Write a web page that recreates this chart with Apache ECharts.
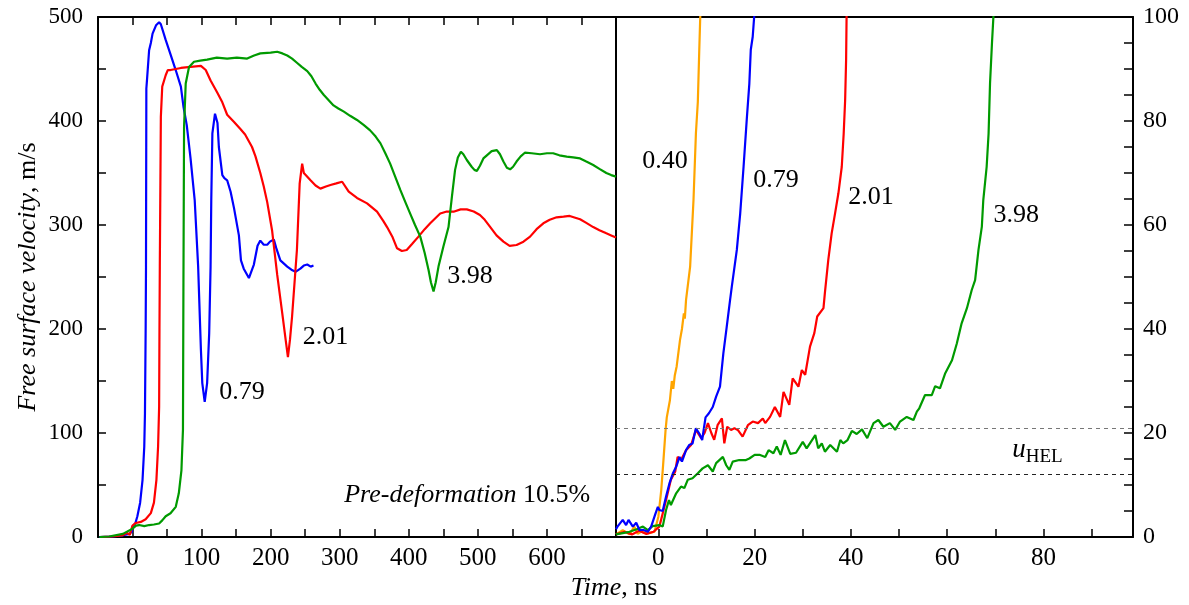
<!DOCTYPE html>
<html>
<head>
<meta charset="utf-8">
<script src="https://cdn.jsdelivr.net/npm/echarts@6/dist/echarts.min.js"></script>
<style>
  html, body { margin: 0; padding: 0; background: #fff; }
  #chart { width: 1189px; height: 605px; }
</style>
</head>
<body>
<div id="chart"></div>
<script>
/* Left panel: full records, time in ns, velocity in m/s. */
let blueLeft = [[-48,0],[-29,0.5],[-15,1.5],[-5,3],[-1,5],[0,10],[4,13],[7,20],[11,33],[14.5,55],[17,87],[18,119],[19,200],[19.5,260],[20,431],[21,440],[24,468],[26.5,475],[29,484],[34,492],[38.5,495],[41,493],[48,478],[55,464],[62.5,449],[70,433],[73.7,414],[78.5,396],[84,364],[90,324],[95,260],[99,180],[101,148],[104.5,130],[108,148],[111,196],[113,260],[114,324],[115.6,388],[119.4,407],[123,398],[125,375],[130,348],[133,345],[137,343],[142,332],[147,316],[154,290],[157,266],[161,258],[168.5,249],[175.7,262],[181,280],[185,285],[190,281],[195,281],[199,284],[204.6,286],[208,278],[214,266],[224,260],[230,257],[236,255],[243,258],[248,261],[253,262],[258,260],[262,261]];
let redLeft = [[-47,0],[-30,0.5],[-15,1.5],[-8,4],[-4,2],[0,11],[4.8,13.5],[12,14.5],[19,17],[26.5,23],[31,33],[34.6,55],[37,87],[38.5,125],[39,200],[39.5,260],[41,404],[43,433],[48,444],[51,449],[55,449],[70,451],[84,452],[99,453],[106,449],[113,439],[123,427],[130,418],[137,406],[147,399],[156.5,392],[163,387],[173,375],[178,366],[185,350],[190,337],[195,322],[202,295],[209.5,252],[216.8,215],[222,188],[225,173],[228,190],[231,212],[238,276],[242,340],[245.6,359],[248,350],[257.7,343],[265,338],[272,335],[280,337],[286.6,338.5],[295,340],[303.5,341.6],[313,332],[325,326],[339.6,320.8],[354,312.8],[363,304],[368.5,298],[376,289],[383,277.6],[390,275],[397,276],[405,282],[414,288.8],[423,296],[431,301.6],[445.5,311],[455,313],[464.8,312.8],[475,315],[484,315],[494,313],[503,309.6],[510,305],[518,298],[527,290],[537,284],[546,280],[556,280.8],[566,284],[575.6,288.8],[585,296],[594.8,301.6],[604,305],[614,307.4],[624,308],[633,308.7],[641,307],[648,305.5],[657,302],[667,298],[676,295],[686,292],[693,290],[700,288]];
let greenLeft = [[-48,0],[-34,0.5],[-14,3],[0,8],[5,11],[9.6,11.5],[17,10.5],[24,11.5],[31,12],[38.5,13],[43,16],[48,20],[55,22.8],[62.6,29],[67,42],[70.8,64],[73,103],[73.7,244],[74.6,394.5],[77,436],[81.8,452],[89,457],[98,458],[108,459],[122,461],[137,460],[151,461],[166,460],[176,463],[185,465],[200,465.7],[209.5,466.6],[217,465],[224,463],[231,460],[238,456],[245,452],[253,448],[259,443],[265,436],[271,430],[277,425],[284,420],[291,415],[298,412],[306,409],[315,405],[325,401],[335,396],[344,391],[352,385],[359,378.5],[366,369],[373,359],[380,347],[387.7,333.7],[395,322],[402,311],[409,300],[416.6,288.8],[423,273],[428.6,256.7],[432,245],[435.8,236],[439,245],[443,260],[450,279],[457.5,298],[462.4,327],[467,353],[471,365],[475.4,370.5],[479,368],[484,362.5],[491,356],[495,353],[498.6,352],[503,357],[508,364],[513,367],[520,371],[527.5,372],[532,368],[537,361],[542,355],[546.7,353.5],[551,356],[556,361],[562,366],[568,369.5],[578,369],[590,368],[600,369],[609,369],[618,367],[628.6,365.7],[638,365],[648,364],[657,361],[667,357.7],[676,354],[686,350],[693,348],[700,346.5]];

/* Right panel: onset of the records, time in ns, velocity in m/s. */
let orangeRight = [[-8.8,0.5],[-8.5,0.7],[-7.4,1.3],[-6,0.5],[-5,2],[-4.3,0.6],[-3.6,1],[-2.2,0.7],[-0.8,1],[0,3.9],[0.6,9],[1,14],[1.5,20.6],[1.75,23],[2.4,26.3],[2.8,30],[3.1,28.5],[3.4,31],[3.8,32.8],[4.5,37.9],[4.9,40],[5.3,43],[5.5,42],[5.75,45.6],[6.6,52],[7.3,64.8],[7.8,77.6],[8.2,83.7],[8.5,93.7],[8.7,100],[8.8,102]];
let blueRight = [[-8.8,1.5],[-8.5,2],[-7.4,3.3],[-6.7,2.3],[-6.2,3.3],[-5.3,2],[-4.6,2.75],[-3.9,1.3],[-3.2,1.4],[-2.2,1],[-1.5,2],[-0.6,4.5],[-0.1,5.8],[0.2,5.2],[0.9,5],[1.6,7.8],[2.3,10.3],[3,12.2],[3.7,13.5],[4.4,15.4],[4.9,14.5],[5.75,16.7],[6.4,17.7],[7.1,18],[7.8,20.9],[8.5,19.9],[9.1,18.65],[9.8,23],[10.5,23.8],[11.3,25],[12,27],[12.8,28.9],[13.5,35.3],[14.2,40.4],[14.9,45.6],[15.25,48.1],[16.3,55.2],[17,62.2],[17.7,71.2],[18.4,80.8],[18.9,87.2],[19.2,93.7],[19.6,96.2],[19.9,100],[20,102]];
let redRight = [[-8.8,0.5],[-7,1],[-5.5,0.5],[-4,1.2],[-2.5,0.6],[-1,1],[0.2,2],[0.9,4.5],[1.6,7.1],[2.6,11],[3.5,12.6],[4,15.4],[4.7,14.8],[5.75,16.7],[6.8,17.7],[7.8,20.6],[8.9,19],[9.6,20],[10.3,21.9],[11,20],[11.6,18.7],[12.3,21.5],[13.2,22.8],[13.7,18],[14.3,21.2],[15.1,20.6],[15.8,20.9],[16.5,20.6],[17.5,19.3],[18.6,21.5],[19.6,22.2],[20.7,21.9],[21.7,22.8],[22.2,21.9],[23.2,23.1],[24.2,25],[25.3,23.1],[26,27.9],[27.2,25.4],[27.9,30.5],[29.1,28.9],[29.8,32.1],[30.5,31.2],[31.5,36.6],[32.4,39.2],[33,42.4],[34.3,44],[34.6,47],[35.3,53.3],[36,58.4],[36.7,62.2],[37.4,66.1],[38.1,71.2],[38.5,77.6],[38.8,84],[39,91.7],[39.1,100],[39.2,102]];
let greenRight = [[-8.8,0.5],[-6,1],[-4.5,1.5],[-3.2,2],[-2.2,1.3],[-1.2,2.1],[0.2,2.3],[0.9,2],[1.6,5.2],[2.2,7.1],[2.6,6.15],[3.7,8.4],[4.7,9.7],[5.4,9.4],[6.1,11],[7.1,11.3],[8.2,12.25],[9.2,13.2],[10.3,13.8],[11.3,12.6],[12,14.2],[13.4,15.4],[14.1,13.8],[14.75,12.9],[15.45,14.5],[16.8,14.8],[18.2,14.8],[18.9,15.1],[20,15.8],[21,15.8],[22.2,15.4],[22.9,16.7],[23.9,16.1],[24.6,17.4],[25.4,15.8],[26.3,18.65],[27.4,16],[28.6,16.2],[30,18.3],[30.8,17.05],[32.6,19.6],[33.2,17.05],[33.95,18],[34.6,16.4],[35.7,17.7],[37.1,16.4],[37.8,18.65],[38.4,18],[39.3,18.65],[40.2,20.4],[41.2,19.8],[42.3,20.7],[43.4,19],[44.7,21.9],[45.7,22.5],[46.75,21.2],[48.1,21.9],[49.2,20.6],[50.2,22.2],[51.6,23.1],[53,22.5],[53.7,24.1],[54.2,24.75],[55.4,27.3],[56.8,27.3],[57.5,29],[58.5,28.6],[59.6,31.5],[61,34],[62,37.2],[63,41.1],[64.1,44],[65.1,47.5],[65.8,49.4],[66.5,55.2],[67.2,59.7],[67.5,64.8],[68.2,71.2],[68.6,77.6],[68.9,87.2],[69.3,94.9],[69.6,100],[69.7,102]];

/* Elastic precursor levels (u_HEL) shown on the right panel. */
let helLevels = [21, 12.1];

/* Tick and label values. */
let leftTimeLabels = [0, 100, 200, 300, 400, 500, 600];
let rightTimeTicks = [0, 10, 20, 30, 40, 50, 60, 70, 80, 90];
let rightTimeLabels = [0, 20, 40, 60, 80];

const FONT = 'Liberation Serif';
const BLUE = '#0000ff', RED = '#ff0000', GREEN = '#009a00', ORANGE = '#ffa500';
const NOTE_SIZE = 26;

let chart = echarts.init(document.getElementById('chart'));

function axisLine() {
    return { show: true, onZero: false, lineStyle: { color: '#000', width: 2 } };
}

function tick(len) {
    return { show: true, inside: true, length: len, lineStyle: { color: '#000', width: 1.5 } };
}

function labelStyle(extra) {
    return Object.assign({ color: '#000', fontFamily: FONT, fontSize: 24 }, extra);
}

function note(coord, text, opts) {
    return Object.assign({
        coord: coord,
        symbol: 'circle',
        symbolSize: 1,
        itemStyle: { color: 'rgba(0,0,0,0)' },
        label: labelStyle({ show: true, position: 'right', distance: 0, fontSize: NOTE_SIZE, formatter: text })
    }, opts || {});
}

function line(name, data, color, xi, yi, notes) {
    let s = {
        name: name,
        type: 'line',
        xAxisIndex: xi,
        yAxisIndex: yi,
        data: data,
        showSymbol: false,
        lineStyle: { color: color, width: 2.2 },
        itemStyle: { color: color },
        animation: false,
        silent: true
    };
    if (notes) {
        s.markPoint = { silent: true, animation: false, data: notes };
    }
    return s;
}

let options = {
    backgroundColor: '#fff',
    animation: false,
    grid: [
        { left: 98, top: 17, width: 518, height: 520 },
        { left: 616, top: 17, width: 517, height: 520 }
    ],
    xAxis: [
        {
            gridIndex: 0, type: 'value', position: 'bottom',
            min: -50, max: 700, interval: 50,
            axisLine: axisLine(), axisTick: tick(8), splitLine: { show: false },
            axisLabel: labelStyle({
                margin: 9, fontSize: 25,
                formatter: function (v) { return leftTimeLabels.indexOf(v) >= 0 ? String(v) : ''; }
            })
        },
        {
            gridIndex: 0, type: 'value', position: 'top',
            min: -50, max: 700, interval: 50,
            axisLine: axisLine(), axisTick: tick(8), splitLine: { show: false },
            axisLabel: { show: false }
        },
        {
            gridIndex: 1, type: 'value', position: 'bottom',
            min: -8.8, max: 98.6,
            axisLine: axisLine(), splitLine: { show: false },
            axisTick: Object.assign(tick(8), { customValues: rightTimeTicks }),
            axisLabel: labelStyle({ margin: 9, fontSize: 25, customValues: rightTimeLabels })
        },
        {
            gridIndex: 1, type: 'value', position: 'top',
            min: -8.8, max: 98.6,
            axisLine: axisLine(), axisTick: { show: false }, axisLabel: { show: false },
            splitLine: { show: false }
        }
    ],
    yAxis: [
        {
            gridIndex: 0, type: 'value', position: 'left',
            min: 0, max: 500, interval: 50,
            axisLine: axisLine(), axisTick: tick(8), splitLine: { show: false },
            axisLabel: labelStyle({
                margin: 15, fontSize: 23,
                formatter: function (v) { return v % 100 === 0 ? String(v) : ''; }
            })
        },
        {
            gridIndex: 1, type: 'value', position: 'right',
            min: 0, max: 100, interval: 5,
            axisLine: axisLine(), axisTick: tick(9), splitLine: { show: false },
            axisLabel: labelStyle({
                margin: 10, fontSize: 24,
                formatter: function (v) { return v % 20 === 0 ? String(v) : ''; }
            })
        },
        {
            gridIndex: 1, type: 'value', position: 'left',
            min: 0, max: 100,
            axisLine: axisLine(), axisTick: { show: false }, axisLabel: { show: false },
            splitLine: { show: false }
        }
    ],
    graphic: [
        {
            type: 'text', x: 28, y: 277, rotation: Math.PI / 2,
            style: {
                text: '{i|Free surface velocity}, m/s',
                fill: '#000', font: '26px "Liberation Serif"',
                align: 'center', verticalAlign: 'middle',
                rich: { i: { fontStyle: 'italic', fontFamily: FONT, fontSize: 26 } }
            }
        },
        {
            type: 'text', x: 614, y: 588,
            style: {
                text: '{i|Time}, ns',
                fill: '#000', font: '26px "Liberation Serif"',
                align: 'center', verticalAlign: 'middle',
                rich: { i: { fontStyle: 'italic', fontFamily: FONT, fontSize: 26 } }
            }
        }
    ],
    series: [
        line('0.79 full', blueLeft, BLUE, 0, 0, [
            note([124.7, 139.7], '0.79'),
            note([305.8, 40.4], '{i|Pre-deformation} 10.5%', {
                label: labelStyle({
                    show: true, position: 'right', distance: 0, fontSize: NOTE_SIZE,
                    formatter: '{i|Pre-deformation} 10.5%',
                    rich: { i: { fontStyle: 'italic', fontFamily: FONT, fontSize: NOTE_SIZE, color: '#000' } }
                })
            })
        ]),
        line('2.01 full', redLeft, RED, 0, 0, [note([245.7, 192.6], '2.01')]),
        line('3.98 full', greenLeft, GREEN, 0, 0, [note([455, 251], '3.98')]),
        {
            type: 'line', xAxisIndex: 2, yAxisIndex: 1, data: [], silent: true,
            markLine: {
                silent: true, symbol: 'none', animation: false,
                label: { show: false },
                data: [
                    { yAxis: helLevels[0], lineStyle: { color: '#777', type: [4, 4], width: 1 } },
                    { yAxis: helLevels[1], lineStyle: { color: '#222', type: [4, 4], width: 1 } }
                ]
            }
        },
        line('0.40 onset', orangeRight, ORANGE, 2, 1, [note([-3.45, 72.2], '0.40')]),
        line('2.01 onset', redRight, RED, 2, 1, [note([39.35, 65.4], '2.01')]),
        line('3.98 onset', greenRight, GREEN, 2, 1, [
            note([69.5, 61.9], '3.98'),
            note([73.4, 16.7], '{u|u}{s|HEL}', {
                label: labelStyle({
                    show: true, position: 'right', distance: 0,
                    formatter: '{u|u}{s|HEL}',
                    rich: {
                        u: { fontStyle: 'italic', fontFamily: FONT, fontSize: 27, color: '#000' },
                        s: { fontFamily: FONT, fontSize: 19, color: '#000', padding: [13, 0, 0, 0] }
                    }
                })
            })
        ]),
        line('0.79 onset', blueRight, BLUE, 2, 1, [note([19.6, 68.7], '0.79')])
    ]
};

chart.setOption(options);
</script>
</body>
</html>
